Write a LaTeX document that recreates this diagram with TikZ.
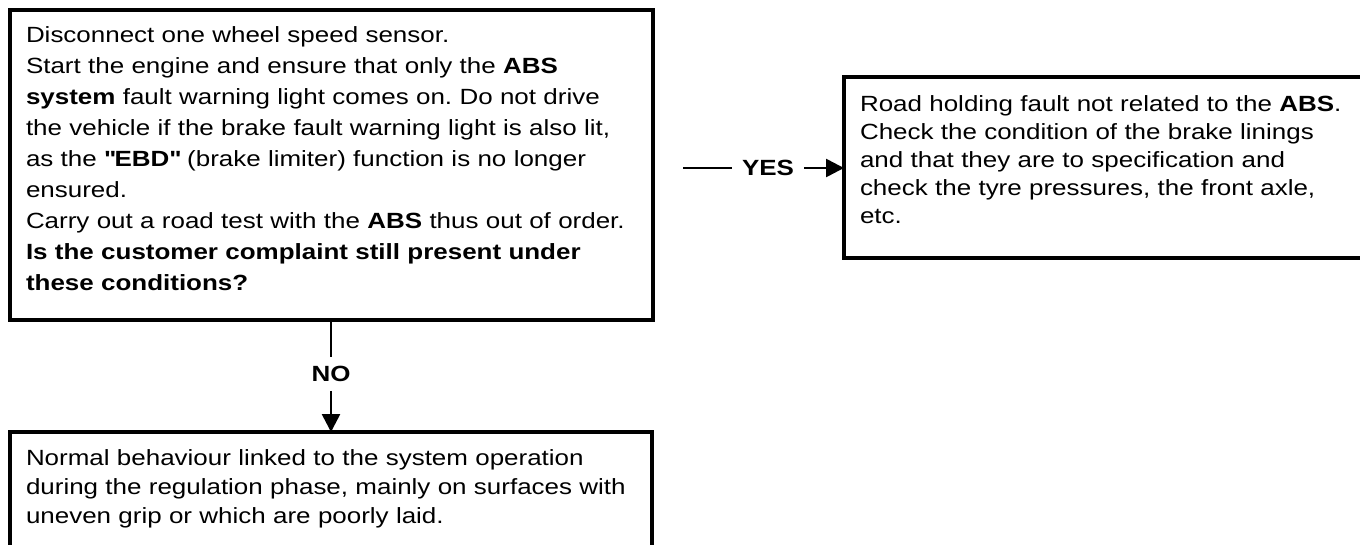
\documentclass[tikz,border=0pt]{standalone}
\usepackage{fontspec}
\setmainfont{Liberation Sans}[FakeStretch=1.18]
\usetikzlibrary{arrows.meta, positioning, calc}

\tikzset{
  stepbox/.style={draw, line width=3.3pt, outer sep=0pt, anchor=north west, align=left,
    font=\fontsize{22}{31}\selectfont, inner xsep=16pt, text height=17pt},
  answer/.style={font=\fontsize{22}{28}\selectfont\bfseries, inner xsep=10pt, inner ysep=9pt},
  link/.style={line width=2.6pt},
  tip/.style={-{Triangle[length=18pt,width=18pt]}}
}

\begin{document}
\frenchspacing
\begin{tikzpicture}[x=1pt,y=-1pt]
  \path[use as bounding box, clip] (0,0) rectangle (1360,544);

  % question box
  \node[stepbox, text width=611pt, inner ysep=15pt, text depth=263pt] (test) at (10,10) {%
    Disconnect one wheel speed sensor.\\
    Start the engine and ensure that only the \textbf{ABS}\\
    \textbf{system} fault warning light comes on. Do not drive\\
    the vehicle if the brake fault warning light is also lit,\\
    as the \textbf{\textquotedbl EBD\textquotedbl} (brake limiter) function is no longer\\
    ensured.\\
    Carry out a road test with the \textbf{ABS} thus out of order.\\
    \textbf{Is the customer complaint still present under}\\
    \textbf{these conditions?}};

  % answers
  \node[stepbox, text width=504pt, inner ysep=17pt, text depth=130pt,
    font=\fontsize{22}{28}\selectfont] (fault) at (844,77) {%
    Road holding fault not related to the \textbf{ABS}.\\
    Check the condition of the brake linings\\
    and that they are to specification and\\
    check the tyre pressures, the front axle,\\
    etc.};
  \node[stepbox, text width=610pt, inner ysep=16pt, text depth=120pt,
    font=\fontsize{22}{29}\selectfont] (normal) at (10,432) {%
    Normal behaviour linked to the system operation\\
    during the regulation phase, mainly on surfaces with\\
    uneven grip or which are poorly laid.};

  \node[answer] (yes) at (768,168) {YES};
  \node[answer] (no) at (331,374) {NO};

  \coordinate (yesfrom) at ($(test.east |- yes)+(30,0)$);
  \draw[link] (yesfrom) -- (yes.west);
  \draw[link, tip] (yes.east) -- (fault.west |- yes);
  \draw[link] (test.south -| no) -- (no.north);
  \draw[link, tip] (no.south) -- (normal.north -| no);
\end{tikzpicture}
\end{document}
